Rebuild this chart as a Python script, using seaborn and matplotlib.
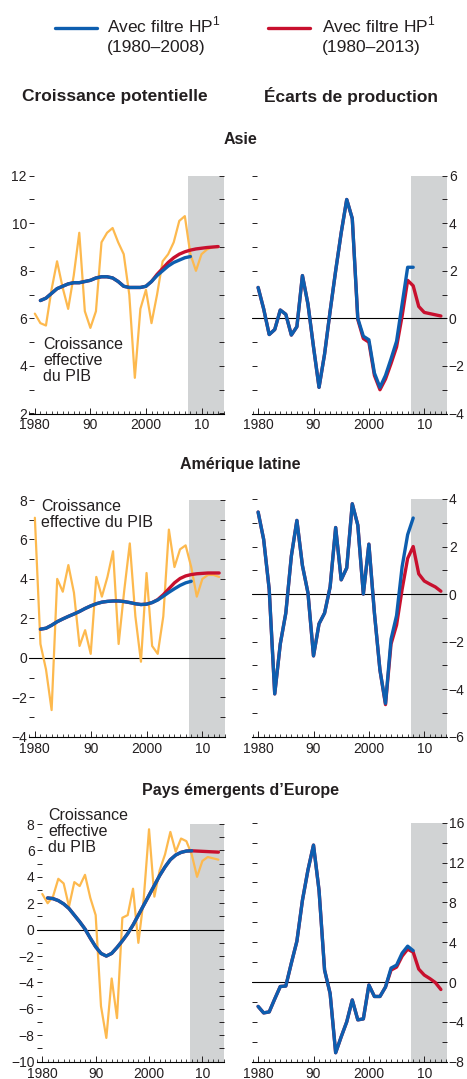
import numpy as np
import pandas as pd
import seaborn as sns
import matplotlib.pyplot as plt
from matplotlib.ticker import MultipleLocator, FixedLocator

years = list(range(1980, 2014))
years_trend_08 = list(range(1981, 2009))
years_trend_13 = list(range(1981, 2014))
years_gap_08 = list(range(1980, 2009))
years_gap_13 = list(range(1980, 2014))

# Asie
asia_growth = [6.2, 5.8, 5.7, 7.2, 8.4, 7.3, 6.4, 7.8, 9.6, 6.3,
               5.6, 6.3, 9.2, 9.6, 9.8, 9.2, 8.7, 7.0, 3.5, 6.4,
               7.2, 5.8, 7.0, 8.4, 8.7, 9.2, 10.1, 10.3, 8.7, 8.0,
               8.7, 8.9, 9.0, 9.0]
asia_trend_08 = [6.75, 6.85, 7.05, 7.25, 7.35, 7.45, 7.5, 7.5, 7.55, 7.6,
                 7.7, 7.75, 7.75, 7.7, 7.55, 7.35, 7.3, 7.3, 7.3, 7.35,
                 7.55, 7.8, 8.0, 8.2, 8.35, 8.45, 8.55, 8.6]
asia_trend_13 = [6.75, 6.85, 7.05, 7.25, 7.35, 7.45, 7.5, 7.5, 7.55, 7.6,
                 7.7, 7.75, 7.75, 7.7, 7.55, 7.35, 7.3, 7.3, 7.3, 7.35,
                 7.55, 7.85, 8.1, 8.35, 8.55, 8.7, 8.8, 8.87, 8.92, 8.95,
                 8.98, 9.0, 9.02]
asia_gap_08 = [1.3, 0.4, -0.68, -0.47, 0.35, 0.17, -0.7, -0.35, 1.8, 0.6,
               -1.2, -2.9, -1.5, 0.3, 2.0, 3.6, 5.0, 4.2, 0.0, -0.75,
               -0.9, -2.3, -2.9, -2.4, -1.7, -0.96, 0.6, 2.15, 2.15]
asia_gap_13 = [1.3, 0.4, -0.68, -0.47, 0.35, 0.17, -0.7, -0.35, 1.8, 0.6,
               -1.2, -2.9, -1.5, 0.3, 2.0, 3.6, 5.0, 4.2, -0.05, -0.85,
               -1.0, -2.4, -3.0, -2.55, -1.9, -1.2, 0.1, 1.6, 1.37, 0.5,
               0.25, 0.2, 0.15, 0.1]

# Amérique latine
latam_growth = [7.1, 0.7, -0.6, -2.65, 4.0, 3.35, 4.7, 3.3, 0.6, 1.4,
                0.2, 4.1, 3.1, 4.1, 5.4, 0.7, 3.4, 5.8, 2.1, -0.2,
                4.3, 0.6, 0.2, 2.1, 6.5, 4.6, 5.5, 5.7, 4.6, 3.1,
                4.0, 4.2, 4.2, 4.1]
latam_trend_08 = [1.45, 1.5, 1.65, 1.83, 1.97, 2.1, 2.22, 2.35, 2.5, 2.63,
                  2.74, 2.82, 2.86, 2.88, 2.88, 2.85, 2.8, 2.74, 2.7, 2.72,
                  2.8, 2.93, 3.12, 3.32, 3.5, 3.67, 3.8, 3.88]
latam_trend_13 = [1.45, 1.5, 1.65, 1.83, 1.97, 2.1, 2.22, 2.35, 2.5, 2.63,
                  2.74, 2.82, 2.86, 2.88, 2.88, 2.85, 2.8, 2.74, 2.7, 2.72,
                  2.8, 2.95, 3.2, 3.5, 3.8, 4.02, 4.15, 4.22, 4.26, 4.28,
                  4.3, 4.3, 4.3]
latam_gap_08 = [3.45, 2.3, 0.2, -4.2, -2.1, -0.8, 1.6, 3.1, 1.2, 0.05,
                -2.6, -1.25, -0.8, 0.3, 2.8, 0.6, 1.1, 3.8, 2.9, 0.0,
                2.1, -0.8, -3.2, -4.6, -1.9, -0.9, 1.15, 2.5, 3.2]
latam_gap_13 = [3.45, 2.3, 0.2, -4.2, -2.1, -0.8, 1.6, 3.1, 1.2, 0.05,
                -2.6, -1.25, -0.8, 0.3, 2.8, 0.6, 1.1, 3.8, 2.9, 0.0,
                2.1, -0.8, -3.2, -4.65, -2.1, -1.3, 0.2, 1.5, 2.0, 0.85,
                0.55, 0.42, 0.3, 0.12]

# Pays émergents d'Europe
europe_growth = [2.7, 2.0, 2.5, 3.85, 3.5, 1.75, 3.6, 3.3, 4.15, 2.4,
                 1.1, -5.8, -8.2, -3.7, -6.7, 0.9, 1.1, 3.1, -1.0, 2.3,
                 7.6, 2.5, 4.5, 5.7, 7.4, 5.9, 6.9, 6.7, 5.7, 4.0,
                 5.2, 5.5, 5.4, 5.3]
europe_trend_08 = [2.4, 2.35, 2.2, 1.95, 1.6, 1.1, 0.6, 0.05, -0.65, -1.3,
                   -1.8, -2.0, -1.8, -1.35, -0.85, -0.3, 0.35, 1.1, 1.85, 2.6,
                   3.35, 4.1, 4.75, 5.3, 5.65, 5.85, 5.95, 5.97]
europe_trend_13 = [2.4, 2.35, 2.2, 1.95, 1.6, 1.1, 0.6, 0.05, -0.65, -1.3,
                   -1.8, -2.0, -1.8, -1.35, -0.85, -0.3, 0.35, 1.1, 1.85, 2.6,
                   3.35, 4.1, 4.75, 5.3, 5.65, 5.85, 5.95, 5.97, 5.95, 5.93,
                   5.91, 5.89, 5.87]
europe_gap_08 = [-2.45, -3.1, -3.0, -1.7, -0.45, -0.4, 1.9, 4.1, 8.2, 11.25,
                 13.75, 9.2, 1.2, -1.15, -7.1, -5.5, -4.0, -1.8, -3.8, -3.7,
                 -0.3, -1.45, -1.45, -0.5, 1.4, 1.7, 2.9, 3.6, 3.15]
europe_gap_13 = [-2.45, -3.1, -3.0, -1.7, -0.45, -0.4, 1.9, 4.1, 8.2, 11.25,
                 13.75, 9.2, 1.2, -1.15, -7.1, -5.5, -4.0, -1.8, -3.8, -3.7,
                 -0.3, -1.45, -1.45, -0.5, 1.2, 1.5, 2.6, 3.3, 3.0, 1.3,
                 0.7, 0.35, -0.05, -0.75]

region_titles = ["Asie", "Amérique latine", "Pays émergents d\u2019Europe"]
column_titles = ["Croissance potentielle", "Écarts de production"]
legend_labels = ["Avec filtre HP$^1$\n(1980\u20132008)", "Avec filtre HP$^1$\n(1980\u20132013)"]
x_tick_pos = [1980, 1990, 2000, 2010]
x_tick_labels = ["1980", "90", "2000", "10"]

sns.set_theme(style="ticks")
plt.rcParams["font.family"] = ["Liberation Sans", "DejaVu Sans"]
plt.rcParams["mathtext.fontset"] = "custom"
plt.rcParams["mathtext.rm"] = "Liberation Sans"
plt.rcParams["text.color"] = "#231f20"

ORANGE = "#fdb94e"
BLUE = "#0d5eaf"
RED = "#c8102e"
SHADE = "#d1d3d4"

W, H = 467, 1079
fig = plt.figure(figsize=(W / 100, H / 100), dpi=100)


def add_ax(x0, y0, x1, y1):
    return fig.add_axes([x0 / W, 1 - y1 / H, (x1 - x0) / W, (y1 - y0) / H])


def style_ax(ax, ylim, major, minor, side):
    ax.set_xlim(1978.95, 2014.05)
    ax.set_ylim(*ylim)
    ax.axvspan(2007.6, 2014.05, color=SHADE, lw=0, zorder=0)
    if ylim[0] < 0 < ylim[1]:
        ax.axhline(0, color="black", lw=0.8, zorder=1)
    for s in ["top", "left", "right"]:
        ax.spines[s].set_visible(False)
    ax.spines["bottom"].set_linewidth(0.8)
    ax.spines["bottom"].set_color("black")
    ax.xaxis.set_major_locator(FixedLocator(x_tick_pos))
    ax.set_xticklabels(x_tick_labels)
    ax.xaxis.set_minor_locator(MultipleLocator(1))
    ax.yaxis.set_major_locator(MultipleLocator(major))
    ax.yaxis.set_minor_locator(MultipleLocator(minor))
    ax.tick_params(axis="x", which="major", direction="in", length=4, width=0.7,
                   labelsize=10, pad=3.5, colors="#231f20")
    ax.tick_params(axis="x", which="minor", direction="in", length=2.5, width=0.6)
    ax.tick_params(axis="y", which="both", direction="in", left=True, right=True,
                   labelleft=(side == "left"), labelright=(side == "right"),
                   length=3.5, width=0.7, labelsize=10, pad=1.5, colors="#231f20")
    ax.set_xlabel("")
    ax.set_ylabel("")
    ax.grid(False)
    ax.set_facecolor("none")


def trend_panel(ax, growth, t08, t13, ylim):
    style_ax(ax, ylim, 2, 1, "left")
    sns.lineplot(x=years, y=growth, ax=ax, color=ORANGE, lw=1.6, zorder=2)
    sns.lineplot(x=years_trend_13, y=t13, ax=ax, color=RED, lw=2.4, zorder=3)
    sns.lineplot(x=years_trend_08, y=t08, ax=ax, color=BLUE, lw=2.4, zorder=4)


def gap_panel(ax, g08, g13, ylim, major=2, minor=1):
    style_ax(ax, ylim, major, minor, "right")
    sns.lineplot(x=years_gap_13, y=g13, ax=ax, color=RED, lw=2.4, zorder=3)
    sns.lineplot(x=years_gap_08, y=g08, ax=ax, color=BLUE, lw=2.4, zorder=4)


# rangée 1 : Asie
ax = add_ax(29, 175.7, 224, 413.5)
trend_panel(ax, asia_growth, asia_trend_08, asia_trend_13, (2, 12))
fig.text(43 / W, 1 - 337 / H, "Croissance\neffective\ndu PIB", fontsize=11.5,
         va="top", ha="left", linespacing=1.1)
ax = add_ax(252.3, 175.7, 446.7, 413.5)
gap_panel(ax, asia_gap_08, asia_gap_13, (-4, 6))

# rangée 2 : Amérique latine
ax = add_ax(29, 500, 225, 736.7)
trend_panel(ax, latam_growth, latam_trend_08, latam_trend_13, (-4, 8))
fig.text(41 / W, 1 - 499 / H, "Croissance\neffective du PIB", fontsize=11.5,
         va="top", ha="left", linespacing=1.1)
ax = add_ax(252.3, 499, 446.7, 736.7)
gap_panel(ax, latam_gap_08, latam_gap_13, (-6, 4))

# rangée 3 : Europe
ax = add_ax(36.7, 824, 224, 1061.7)
trend_panel(ax, europe_growth, europe_trend_08, europe_trend_13, (-10, 8))
fig.text(48 / W, 1 - 808 / H, "Croissance\neffective\ndu PIB", fontsize=11.5,
         va="top", ha="left", linespacing=1.1)
ax = add_ax(252.3, 822.7, 446.7, 1061.7)
gap_panel(ax, europe_gap_08, europe_gap_13, (-8, 16), major=4, minor=2)

# titres
for title, y in zip(region_titles, [140, 465, 790]):
    fig.text(240 / W, 1 - y / H, title, fontsize=11.5, fontweight="bold",
             ha="center", va="center")
fig.text(115 / W, 1 - 96 / H, column_titles[0], fontsize=12.5, fontweight="bold",
         ha="center", va="center")
fig.text(351 / W, 1 - 96 / H, column_titles[1], fontsize=12.5, fontweight="bold",
         ha="center", va="center")

# légende
for (x0, x1, xt), color, label in zip([(55, 97, 107), (268, 310, 322)], [BLUE, RED], legend_labels):
    fig.add_artist(plt.Line2D([x0 / W, x1 / W], [1 - 28 / H, 1 - 28 / H], color=color, lw=2.4))
    fig.text(xt / W, 1 - 15 / H, label, fontsize=12.5, ha="left", va="top", linespacing=1.35)

fig.savefig("out.png", dpi=100)
